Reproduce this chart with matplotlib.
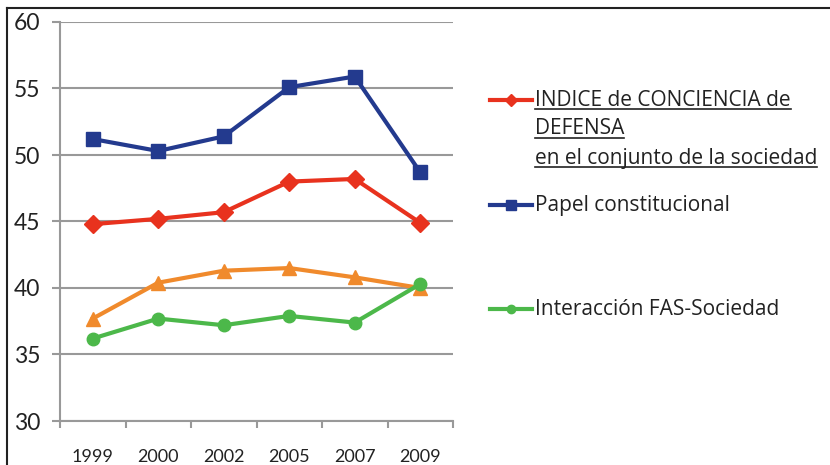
import matplotlib
matplotlib.use("Agg")
import matplotlib.pyplot as plt
from matplotlib.lines import Line2D

years = ["1999", "2000", "2002", "2005", "2007", "2009"]
indice = [44.8, 45.2, 45.7, 48.0, 48.2, 44.9]
papel = [51.2, 50.3, 51.4, 55.1, 55.9, 48.7]
orange_series = [37.7, 40.4, 41.3, 41.5, 40.8, 40.0]
interaccion = [36.2, 37.7, 37.2, 37.9, 37.4, 40.3]
yticks = [30, 35, 40, 45, 50, 55, 60]
legend_labels = ["INDICE de CONCIENCIA de\nDEFENSA\nen el conjunto de la sociedad",
                 "Papel constitucional", "", "Interacción FAS-Sociedad"]

RED = "#E8321E"
BLUE = "#233A8E"
ORANGE = "#F08A2C"
GREEN = "#4CB84A"
GRID = "#999999"

plt.rcParams['font.family'] = ['Lato', 'DejaVu Sans']

fig = plt.figure(figsize=(8.3, 4.65), dpi=100)
ax = fig.add_axes([60/830, 1-421/465, (453-60)/830, (421-22)/465])

x = list(range(len(years)))
ax.plot(x, orange_series, color=ORANGE, lw=3, marker='^', ms=10, zorder=3)
ax.plot(x, interaccion, color=GREEN, lw=3, marker='o', ms=9, zorder=3)
ax.plot(x, indice, color=RED, lw=3, marker='D', ms=9, zorder=4)
ax.plot(x, papel, color=BLUE, lw=3, marker='s', ms=10, zorder=4)

ax.set_xlim(-0.5, len(years)-0.5)
ax.set_ylim(30, 60)
ax.set_yticks(yticks)
ax.set_yticklabels([str(v) for v in yticks], fontsize=16.5, color="#222222")
ax.set_xticks(x)
ax.set_xticklabels(years, fontsize=13, color="#222222")
ax.set_xticks([i - 0.5 for i in range(len(years)+1)], minor=True)
ax.tick_params(axis='x', which='major', length=0, pad=20)
ax.tick_params(axis='x', which='minor', length=5, color=GRID, width=1.5, direction='out')
ax.tick_params(axis='y', length=6, color=GRID, width=1.5, pad=8)
ax.grid(axis='y', color=GRID, lw=1.5)
ax.set_axisbelow(True)
for s in ['top', 'right']:
    ax.spines[s].set_visible(False)
for s in ['left', 'bottom']:
    ax.spines[s].set_color(GRID)
    ax.spines[s].set_linewidth(1.5)

# figure frame lines (left and top)
fig.add_artist(Line2D([7/830, 7/830], [0, 1-8/465], color="#222222", lw=1.5, transform=fig.transFigure))
fig.add_artist(Line2D([7/830, 1], [1-8/465, 1-8/465], color="#222222", lw=1.5, transform=fig.transFigure))

# manual legend
entries = [(RED, 'D', 6, 100), (BLUE, 's', 7, 205), (ORANGE, '^', 7, 257), (GREEN, 'o', 6, 309)]
fig.canvas.draw()
renderer = fig.canvas.get_renderer()
for (col, mk, ms, ypix), label in zip(entries, legend_labels):
    if not label:
        continue
    yf = 1 - ypix/465
    fig.add_artist(Line2D([490/830, 532/830], [yf, yf], color=col, lw=3, transform=fig.transFigure))
    fig.add_artist(Line2D([511/830], [yf], color=col, marker=mk, ms=ms, transform=fig.transFigure))
    lines = label.split("\n")
    underline = len(lines) > 1
    for i, ln in enumerate(lines):
        yl = 1 - (ypix + i*29)/465
        t = fig.text(535/830, yl, ln, fontsize=15, va='center', ha='left', color="#222222",
                     family=['Open Sans', 'DejaVu Sans'])
        if underline:
            bb = t.get_window_extent(renderer=renderer)
            x0, x1 = bb.x0/830, bb.x1/830
            yu = (bb.y0 + 1)/465
            fig.add_artist(Line2D([x0, x1], [yu, yu], color="#222222", lw=1.2, transform=fig.transFigure))

fig.savefig("out.png", dpi=100)
